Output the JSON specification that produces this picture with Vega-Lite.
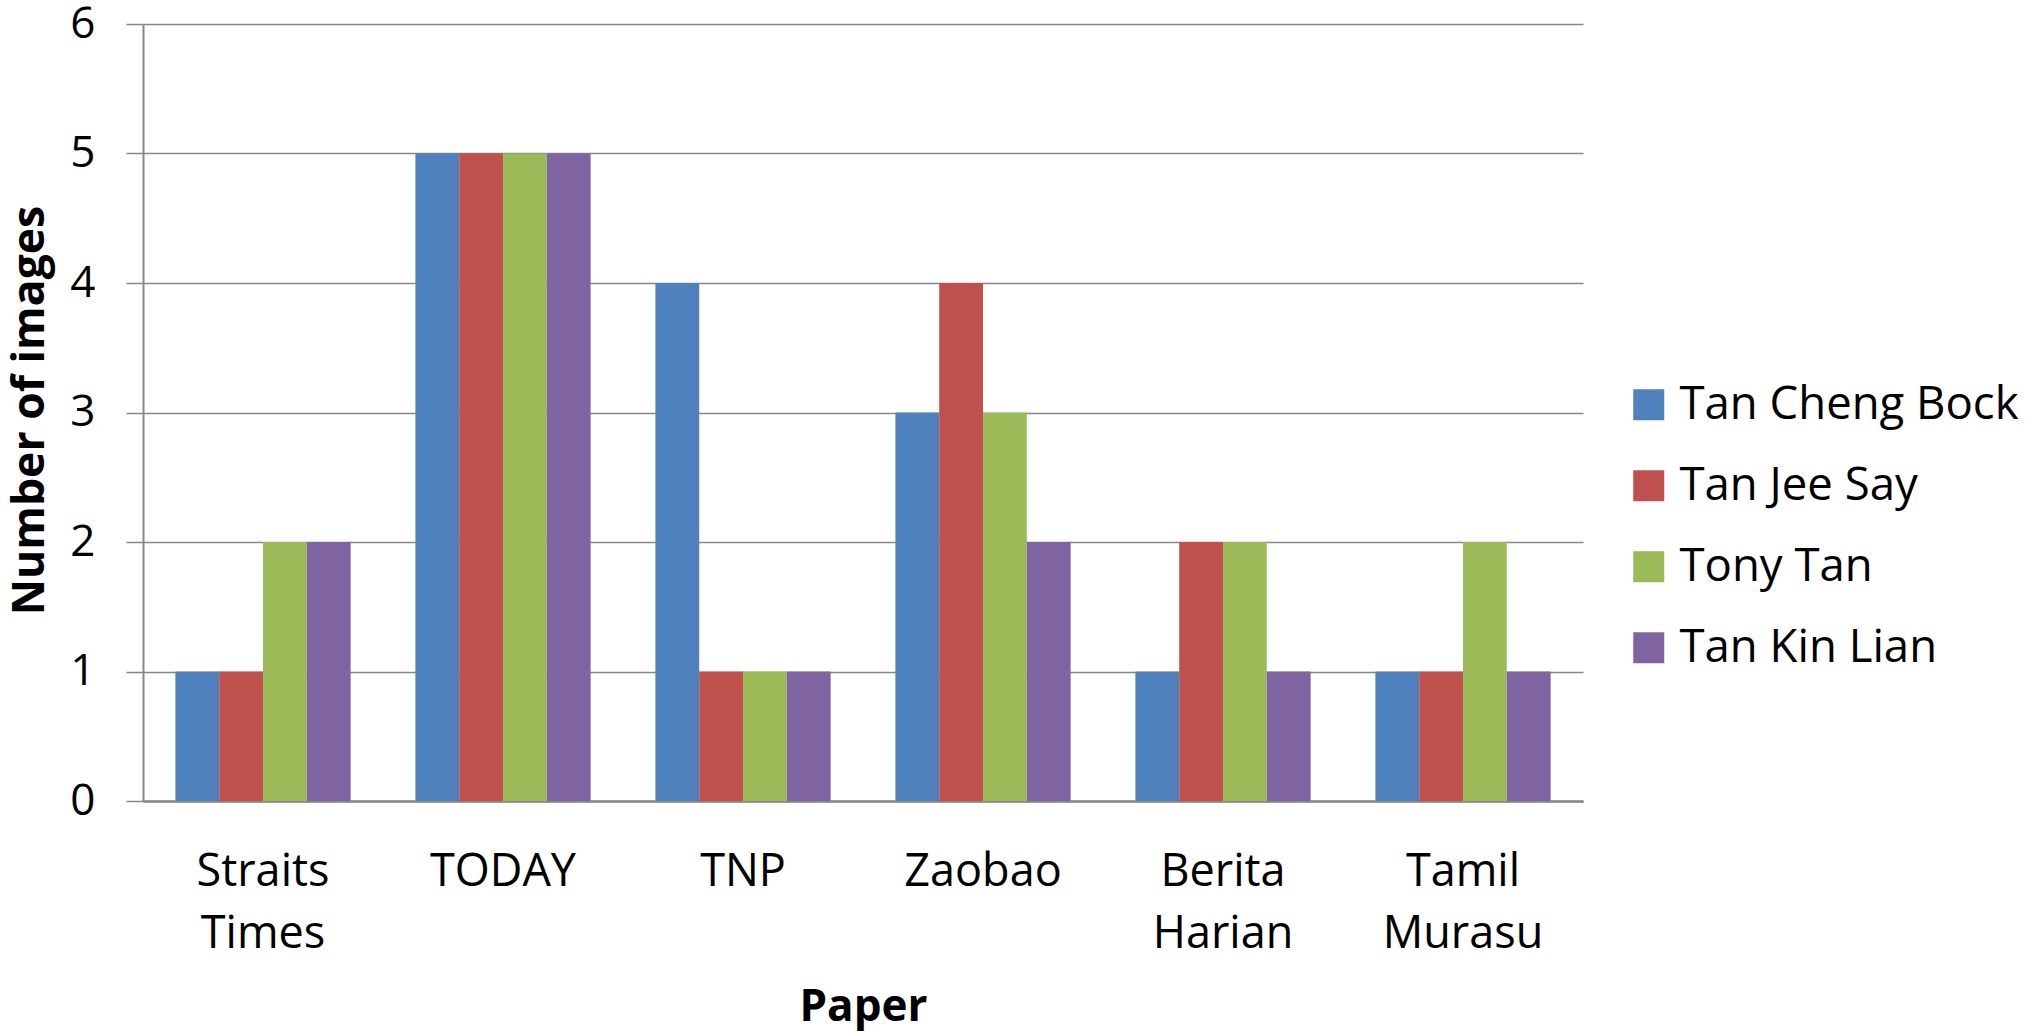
{
  "$schema": "https://vega.github.io/schema/vega-lite/v6.json",
  "width": 1440,
  "height": 777,
  "autosize": {"type": "none"},
  "padding": {"left": 143, "top": 24, "right": 444, "bottom": 230},
  "background": "white",
  "config": {
    "view": {"stroke": null},
    "font": "Open Sans"
  },
  "data": {
    "values": [
      {"paper": "Straits Times", "candidate": "Tan Cheng Bock", "images": 1},
      {"paper": "Straits Times", "candidate": "Tan Jee Say", "images": 1},
      {"paper": "Straits Times", "candidate": "Tony Tan", "images": 2},
      {"paper": "Straits Times", "candidate": "Tan Kin Lian", "images": 2},
      {"paper": "TODAY", "candidate": "Tan Cheng Bock", "images": 5},
      {"paper": "TODAY", "candidate": "Tan Jee Say", "images": 5},
      {"paper": "TODAY", "candidate": "Tony Tan", "images": 5},
      {"paper": "TODAY", "candidate": "Tan Kin Lian", "images": 5},
      {"paper": "TNP", "candidate": "Tan Cheng Bock", "images": 4},
      {"paper": "TNP", "candidate": "Tan Jee Say", "images": 1},
      {"paper": "TNP", "candidate": "Tony Tan", "images": 1},
      {"paper": "TNP", "candidate": "Tan Kin Lian", "images": 1},
      {"paper": "Zaobao", "candidate": "Tan Cheng Bock", "images": 3},
      {"paper": "Zaobao", "candidate": "Tan Jee Say", "images": 4},
      {"paper": "Zaobao", "candidate": "Tony Tan", "images": 3},
      {"paper": "Zaobao", "candidate": "Tan Kin Lian", "images": 2},
      {"paper": "Berita Harian", "candidate": "Tan Cheng Bock", "images": 1},
      {"paper": "Berita Harian", "candidate": "Tan Jee Say", "images": 2},
      {"paper": "Berita Harian", "candidate": "Tony Tan", "images": 2},
      {"paper": "Berita Harian", "candidate": "Tan Kin Lian", "images": 1},
      {"paper": "Tamil Murasu", "candidate": "Tan Cheng Bock", "images": 1},
      {"paper": "Tamil Murasu", "candidate": "Tan Jee Say", "images": 1},
      {"paper": "Tamil Murasu", "candidate": "Tony Tan", "images": 2},
      {"paper": "Tamil Murasu", "candidate": "Tan Kin Lian", "images": 1}
    ]
  },
  "mark": {"type": "bar"},
  "encoding": {
    "x": {
      "field": "paper",
      "type": "nominal",
      "sort": ["Straits Times", "TODAY", "TNP", "Zaobao", "Berita Harian", "Tamil Murasu"],
      "scale": {"paddingInner": 0.27, "paddingOuter": 0.135},
      "axis": {
        "title": "Paper",
        "titleFont": "Open Sans",
        "titleFontWeight": "bold",
        "titleFontSize": 44,
        "titleColor": "black",
        "titlePadding": 29,
        "labelAngle": 0,
        "labelFont": "Open Sans",
        "labelFontSize": 45,
        "labelColor": "black",
        "labelExpr": "split(datum.label, ' ')",
        "labelLineHeight": 62,
        "labelPadding": 48,
        "labelBaseline": "top",
        "ticks": false,
        "domainColor": "#878787",
        "domainWidth": 2.5
      }
    },
    "xOffset": {
      "field": "candidate",
      "type": "nominal",
      "sort": ["Tan Cheng Bock", "Tan Jee Say", "Tony Tan", "Tan Kin Lian"]
    },
    "y": {
      "field": "images",
      "type": "quantitative",
      "scale": {"domain": [0, 6], "nice": false},
      "axis": {
        "title": "Number of images",
        "titleFont": "Open Sans",
        "titleFontWeight": "bold",
        "titleFontSize": 44.5,
        "titleColor": "black",
        "titleX": -113,
        "titleY": 386,
        "titleBaseline": "middle",
        "titleAlign": "center",
        "values": [0, 1, 2, 3, 4, 5, 6],
        "labelFont": "Open Sans",
        "labelFontSize": 44,
        "labelColor": "black",
        "labelPadding": 31,
        "tickSize": 17,
        "tickColor": "#878787",
        "tickWidth": 1.5,
        "grid": true,
        "gridColor": "#878787",
        "gridWidth": 1.5,
        "domainColor": "#878787",
        "domainWidth": 2
      }
    },
    "color": {
      "field": "candidate",
      "type": "nominal",
      "sort": ["Tan Cheng Bock", "Tan Jee Say", "Tony Tan", "Tan Kin Lian"],
      "scale": {
        "domain": ["Tan Cheng Bock", "Tan Jee Say", "Tony Tan", "Tan Kin Lian"],
        "range": ["#4F81BD", "#C0504D", "#9BBB59", "#8064A2"]
      },
      "legend": {
        "title": null,
        "orient": "none",
        "legendX": 1483,
        "legendY": 358,
        "symbolType": "square",
        "symbolSize": 961,
        "symbolStrokeWidth": 0,
        "labelFont": "Open Sans",
        "labelFontSize": 45.5,
        "labelColor": "black",
        "labelOffset": 8,
        "rowPadding": 34,
        "labelLimit": 500
      }
    }
  }
}
